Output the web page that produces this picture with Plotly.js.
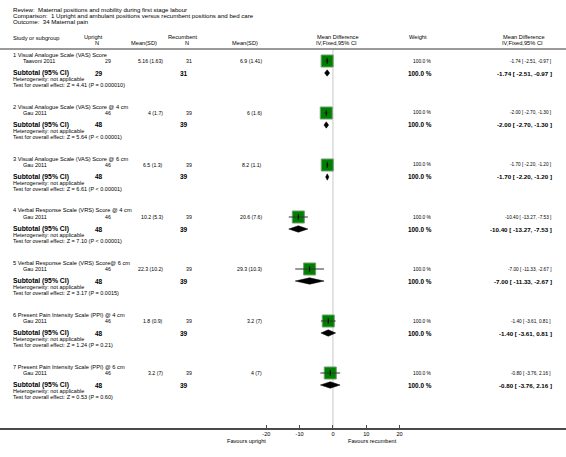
<!DOCTYPE html>
<html>
<head>
<meta charset="utf-8">
<script src="https://cdn.plot.ly/plotly-3.0.1.min.js"></script>
<style>html,body{margin:0;padding:0;background:#fff;}#chart{width:566px;height:457px;}</style>
</head>
<body>
<div id="chart"></div>
<script>
// ---------- DATA ----------
const reviewText = 'Review:  Maternal positions and mobility during first stage labour';
const comparisonText = 'Comparison:  1 Upright and ambulant positions versus recumbent positions and bed care';
const outcomeText = 'Outcome:  34 Maternal pain';
const groupNames = [
  '1 Visual Analogue Scale (VAS) Score',
  '2 Visual Analogue Scale (VAS) Score @ 4 cm',
  '3 Visual Analogue Scale (VAS) Score @ 6 cm',
  '4 Verbal Response Scale (VRS) Score @ 4 cm',
  '5 Verbal Response Scale (VRS) Score@ 6 cm',
  '6 Present Pain Intensity Scale (PPI) @ 4 cm',
  '7 Present Pain Intensity Scale (PPI) @ 6 cm'
];
const studyNames = ['Taavoni 2011','Gau 2011','Gau 2011','Gau 2011','Gau 2011','Gau 2011','Gau 2011'];
const uprightN = [29, 46, 46, 46, 46, 46, 46];
const uprightSubtotalN = [29, 48, 48, 48, 48, 48, 48];
const uprightMeanSD = ['5.16 (1.63)','4 (1.7)','6.5 (1.3)','10.2 (5.3)','22.3 (10.2)','1.8 (0.9)','3.2 (7)'];
const recumbentN = [31, 39, 39, 39, 39, 39, 39];
const recumbentSubtotalN = [31, 39, 39, 39, 39, 39, 39];
const recumbentMeanSD = ['6.9 (1.41)','6 (1.6)','8.2 (1.1)','20.6 (7.6)','29.3 (10.3)','3.2 (7)','4 (7)'];
const meanDiff = [-1.74, -2.00, -1.70, -10.40, -7.00, -1.40, -0.80];
const ciLow = [-2.51, -2.70, -2.20, -13.27, -11.33, -3.61, -3.76];
const ciHigh = [-0.97, -1.30, -1.20, -7.53, -2.67, 0.81, 2.16];
const weights = [100.0, 100.0, 100.0, 100.0, 100.0, 100.0, 100.0];
const heterogeneity = ['not applicable','not applicable','not applicable','not applicable','not applicable','not applicable','not applicable'];
const zTests = ['Z = 4.41 (P = 0.000010)','Z = 5.64 (P < 0.00001)','Z = 6.61 (P < 0.00001)','Z = 7.10 (P < 0.00001)','Z = 3.17 (P = 0.0015)','Z = 1.24 (P = 0.21)','Z = 0.53 (P = 0.60)'];
const tickValues = [-20, -10, 0, 10, 20];
const tickLabels = ['-20', '-10', '0', '10', '20'];
const favoursLeft = 'Favours upright';
const favoursRight = 'Favours recumbent';

// ---------- LAYOUT HELPERS ----------
const W = 566, H = 457, AXIS_Y = 428;
const FONT = 'Liberation Sans, Arial, Helvetica, sans-serif';
function py(p) { return (AXIS_Y - p) / AXIS_Y; }
const annotations = [];
function ann(text, x, y, anchor, size, bold) {
  annotations.push({
    text: bold ? '<b>' + text + '</b>' : text,
    xref: 'paper', yref: 'paper', x: x / W, y: py(y),
    xanchor: anchor, yanchor: 'middle', showarrow: false, borderpad: 0,
    font: { family: FONT, size: size, color: '#000' }
  });
}
function fmt(v) { return v.toFixed(2); }
function ciText(i) { return fmt(meanDiff[i]) + ' [ ' + fmt(ciLow[i]) + ', ' + fmt(ciHigh[i]) + ' ]'; }

// header texts
ann(reviewText, 12, 9, 'left', 6.1);
ann(comparisonText, 12, 15.5, 'left', 6.1);
ann(outcomeText, 12, 22, 'left', 6.1);
ann('Study or subgroup', 12, 38, 'left', 5.7);
ann('Upright', 93, 37, 'center', 5.7);
ann('N', 97, 43, 'center', 5.7);
ann('Mean(SD)', 144, 43, 'center', 5.7);
ann('Recumbent', 183, 37, 'center', 5.7);
ann('N', 187, 43, 'center', 5.7);
ann('Mean(SD)', 245, 43, 'center', 5.7);
ann('Mean Difference', 338, 37, 'center', 5.7);
ann('IV,Fixed,95% CI', 336, 43, 'center', 5.7);
ann('Weight', 418, 37, 'center', 5.7);
ann('Mean Difference', 524, 37, 'center', 5.7);
ann('IV,Fixed,95% CI', 522, 43, 'center', 5.7);

const rowY = [];
for (let g = 0; g < groupNames.length; g++) {
  const sy = 61 + 52 * g;
  rowY.push(sy);
  ann(groupNames[g], 12, sy - 6.5, 'left', 5.7);
  ann(studyNames[g], 22, sy, 'left', 5.5);
  ann(String(uprightN[g]), 112, sy, 'right', 5.2);
  ann(uprightMeanSD[g], 164, sy, 'right', 5.2);
  ann(String(recumbentN[g]), 193, sy, 'right', 5.2);
  ann(recumbentMeanSD[g], 263, sy, 'right', 5.2);
  ann(weights[g].toFixed(1) + ' %', 433, sy, 'right', 4.9);
  ann(ciText(g), 552, sy, 'right', 4.7);
  const ty = sy + 12;
  ann('Subtotal (95% CI)', 12, ty, 'left', 6.8, true);
  ann(String(uprightSubtotalN[g]), 104, ty, 'right', 6.5, true);
  ann(String(recumbentSubtotalN[g]), 189, ty, 'right', 6.5, true);
  ann(weights[g].toFixed(1) + ' %', 433, ty, 'right', 6.4, true);
  ann(ciText(g), 553, ty, 'right', 6.2, true);
  ann('Heterogeneity: ' + heterogeneity[g], 12, ty + 6, 'left', 5.5);
  ann('Test for overall effect: ' + zTests[g], 12, ty + 12, 'left', 5.5);
}
ann(favoursLeft, 267, 441, 'right', 5.6);
ann(favoursRight, 347, 441, 'left', 5.6);

// ---------- TRACES ----------
const traces = [];
// squares
traces.push({
  type: 'scatter', mode: 'markers', x: meanDiff, y: rowY, hoverinfo: 'skip',
  marker: { symbol: 'square', size: 12, color: '#008000', line: { color: '#6f9f6f', width: 1 } }
});
// CI lines
const ciX = [], ciY = [];
for (let i = 0; i < meanDiff.length; i++) { ciX.push(ciLow[i], ciHigh[i], null); ciY.push(rowY[i], rowY[i], null); }
traces.push({ type: 'scatter', mode: 'lines', x: ciX, y: ciY, hoverinfo: 'skip', line: { color: '#333', width: 1 } });
// center ticks
traces.push({
  type: 'scatter', mode: 'markers', x: meanDiff, y: rowY, hoverinfo: 'skip',
  marker: { symbol: 'line-ns', size: 4, line: { color: '#000', width: 1 } }
});
// diamonds
for (let i = 0; i < meanDiff.length; i++) {
  const dy = rowY[i] + 12;
  traces.push({
    type: 'scatter', mode: 'lines', fill: 'toself', fillcolor: '#000', hoverinfo: 'skip',
    x: [ciLow[i], meanDiff[i], ciHigh[i], meanDiff[i], ciLow[i]],
    y: [dy, dy - 3.2, dy, dy + 3.2, dy],
    line: { color: '#000', width: 0.5 }
  });
}

const layout = {
  width: W, height: H,
  margin: { l: 0, r: 0, t: 0, b: H - AXIS_Y, pad: 0 },
  paper_bgcolor: '#fff', plot_bgcolor: '#fff',
  showlegend: false,
  font: { family: FONT, color: '#000' },
  xaxis: {
    range: [-100, 70], domain: [0, 1], showgrid: false, zeroline: false,
    showline: true, linecolor: '#4a4a4a', linewidth: 1.5,
    ticks: 'inside', ticklen: 3, tickwidth: 1, tickcolor: '#4a4a4a',
    tickvals: tickValues, ticktext: tickLabels,
    tickfont: { family: FONT, size: 5.6, color: '#000' }, fixedrange: true
  },
  yaxis: { range: [AXIS_Y, 0], domain: [0, 1], visible: false, showgrid: false, zeroline: false, fixedrange: true },
  shapes: [
    { type: 'line', xref: 'x', yref: 'y', x0: 0, x1: 0, y0: 49, y1: AXIS_Y, line: { color: '#c8c8c8', width: 1 }, layer: 'below' },
    { type: 'line', xref: 'paper', yref: 'y', x0: 0, x1: 1, y0: 49, y1: 49, line: { color: '#9a9a9a', width: 2 } }
  ],
  annotations: annotations
};

Plotly.newPlot('chart', traces, layout, { staticPlot: true, displayModeBar: false });
</script>
</body>
</html>
